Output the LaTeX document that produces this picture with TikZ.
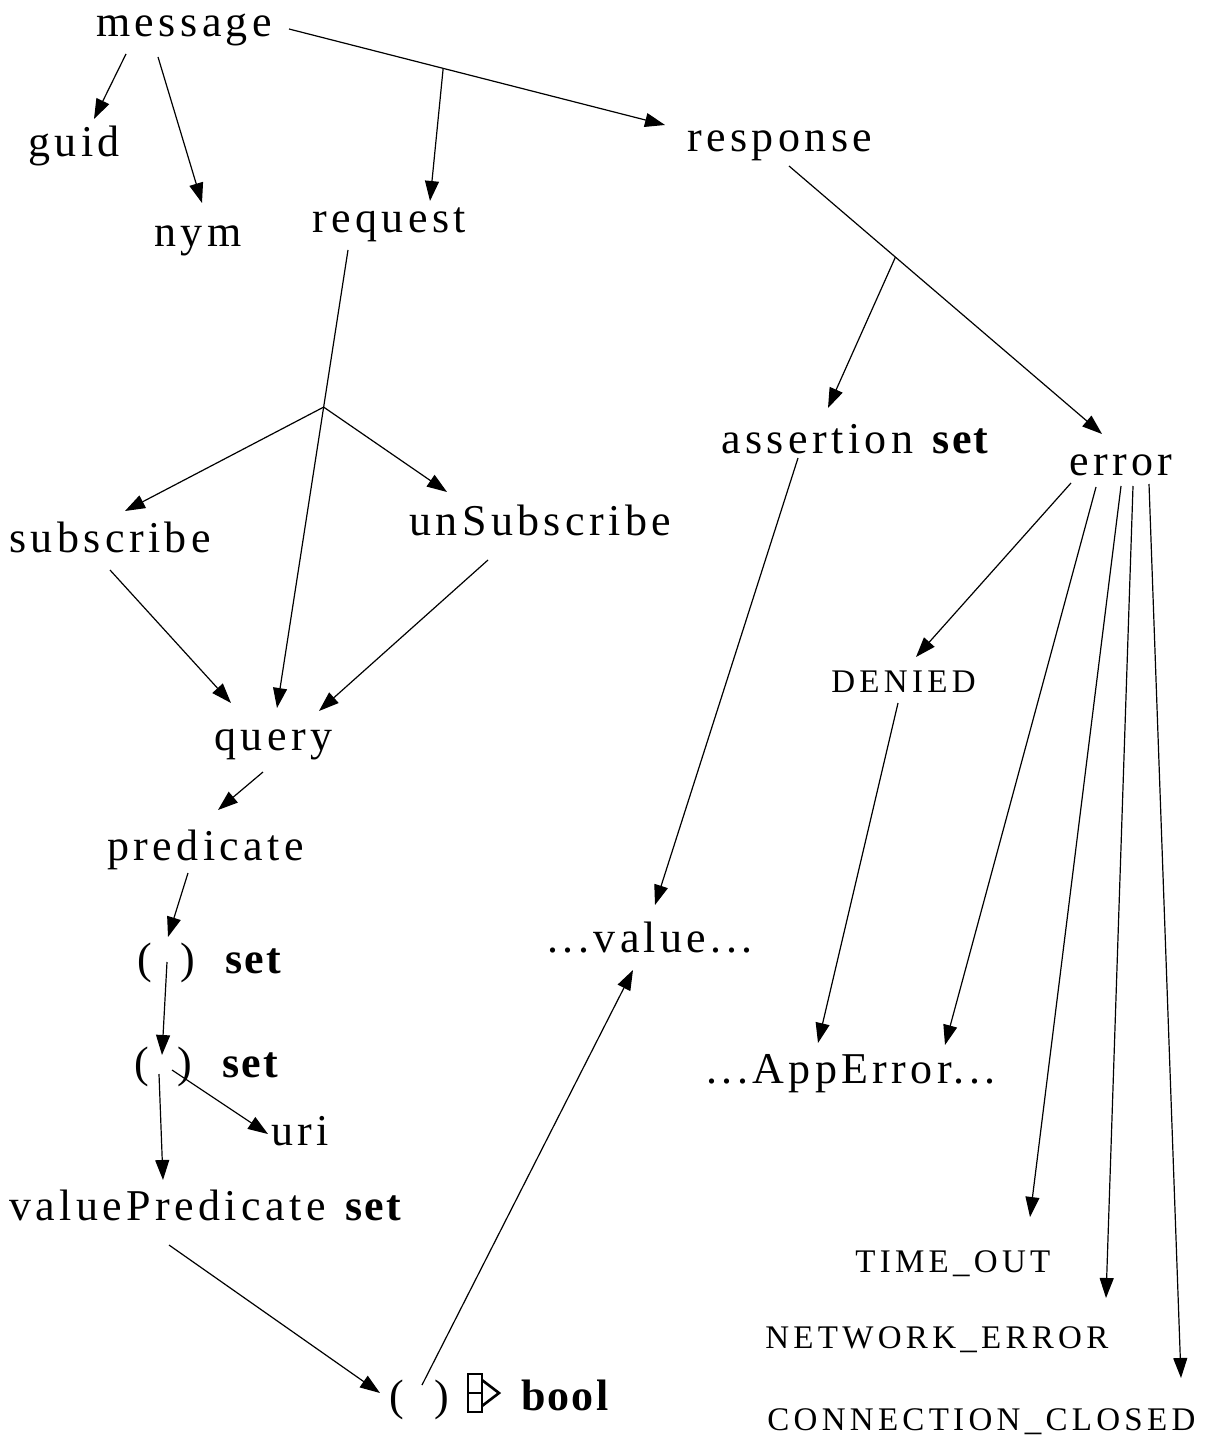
\documentclass[tikz,border=0pt]{standalone}
\usepackage{fontspec}
\usetikzlibrary{arrows.meta,calc}
\setmainfont{Liberation Serif}[LetterSpace=10, BoldFeatures={LetterSpace=5}]
\newfontfamily\capsfont{Liberation Serif}[LetterSpace=13]
\begin{document}
\begin{tikzpicture}[x=0.5pt,y=-0.5pt,
  lbl/.style={inner sep=0pt, anchor=base west, font=\fontsize{22}{26}\selectfont},
  capslbl/.style={inner sep=0pt, anchor=base west, font=\capsfont\fontsize{16.5}{20}\selectfont},
  arr/.style={line width=0.6pt, -{Triangle[length=10pt,width=7pt]}},
  glyph/.style={line width=1.3pt, line join=miter}]
\useasboundingbox (0,0) rectangle (1207,1443);

% ---- labels ----
\node[lbl] (message)   at (96,37)    {message};
\node[lbl] (guid)      at (28,157)   {guid};
\node[lbl] (nym)       at (154,247)  {nym};
\node[lbl] (request)   at (312,233)  {request};
\node[lbl] (response)  at (687,152)  {response};
\node[lbl] (assertion) at (721,453)  {assertion \textbf{set}};
\node[lbl] (error)     at (1069,475) {error};
\node[lbl] (subscribe) at (9,552)    {subscribe};
\node[lbl] (unsub)     at (409,535)  {unSubscribe};
\node[lbl] (query)     at (214,750)  {query};
\node[lbl] (predicate) at (107,860)  {predicate};
\node[lbl] (setA)      at (137,973)  {(\hspace{14pt})\hspace{13pt}\textbf{set}};
\node[lbl] (setB)      at (134,1077) {(\hspace{14pt})\hspace{13pt}\textbf{set}};
\node[lbl] (uri)       at (271,1145) {uri};
\node[lbl] (valpred)   at (9,1220)   {valuePredicate \textbf{set}};
\node[lbl] (boolfn)    at (389,1410) {(\hspace{15pt})\hspace{34pt}\textbf{bool}};
\node[lbl] (value)     at (547,952)  {...value...};
\node[lbl] (apperr)    at (706,1083) {...AppError...};
\node[capslbl] (denied)  at (831,692)  {DENIED};
\node[capslbl] (timeout) at (855,1272) {TIME\_OUT};
\node[capslbl] (neterr)  at (765,1348) {NETWORK\_ERROR};
\node[capslbl] (closed)  at (767,1430) {CONNECTION\_CLOSED};

% implication sign between the parentheses and "bool"
\draw[glyph] (468,1374) rectangle (482,1412);
\draw[glyph] (468,1393) -- (482,1393);
\draw[glyph] (482,1380) -- (499,1393) -- (482,1406);

% ---- connector end points ----
\coordinate (msg-s1)   at (126,54);
\coordinate (guid-n)   at (94,119);
\coordinate (msg-s2)   at (158,57);
\coordinate (nym-n)    at (202,203);
\coordinate (msg-e)    at (289,29);
\coordinate (resp-w)   at (665,125);
\coordinate (msg-fork) at ($(msg-e)!0.41!(resp-w)$);
\coordinate (req-n)    at (430,201);

\coordinate (resp-s)    at (789,166);
\coordinate (err-n)     at (1102,434);
\coordinate (resp-fork) at ($(resp-s)!0.34!(err-n)$);
\coordinate (asr-n)     at (828,408);

\coordinate (req-s)    at (348,250);
\coordinate (qry-n)    at (277,708);
\coordinate (req-fork) at ($(req-s)!0.343!(qry-n)$);
\coordinate (sub-n)    at (125,511);
\coordinate (uns-n)    at (447,492);
\coordinate (sub-s)    at (110,570);
\coordinate (qry-nw)   at (231,703);
\coordinate (uns-s)    at (488,560);
\coordinate (qry-ne)   at (319,711);

\coordinate (qry-s)    at (263,772);
\coordinate (pred-n)   at (218,810);
\coordinate (pred-s)   at (188,873);
\coordinate (setA-n)   at (168,937);
\coordinate (setA-s)   at (167,962);
\coordinate (setB-n)   at (162,1055);
\coordinate (setB-e)   at (172,1070);
\coordinate (uri-w)    at (268,1134);
\coordinate (setB-s)   at (159,1074);
\coordinate (vp-n)     at (163,1180);
\coordinate (vp-s)     at (169,1245);
\coordinate (bool-w)   at (380,1393);
\coordinate (bool-n)   at (422,1385);
\coordinate (val-s)    at (633,970);

\coordinate (asr-s)    at (798,458);
\coordinate (val-ne)   at (655,905);

\coordinate (err-sw)   at (1071,483);
\coordinate (den-n)    at (916,657);
\coordinate (den-s)    at (898,703);
\coordinate (app-nw)   at (818,1043);
\coordinate (err-s1)   at (1096,487);
\coordinate (app-ne)   at (945,1045);
\coordinate (err-s2)   at (1121,486);
\coordinate (to-n)     at (1030,1217);
\coordinate (err-s3)   at (1133,486);
\coordinate (ne-n)     at (1106,1298);
\coordinate (err-s4)   at (1149,484);
\coordinate (cc-n)     at (1181,1378);

% ---- connectors ----
\draw[arr] (msg-s1) -- (guid-n);
\draw[arr] (msg-s2) -- (nym-n);
\draw[arr] (msg-e) -- (resp-w);
\draw[arr] (msg-fork) -- (req-n);

\draw[arr] (resp-s) -- (err-n);
\draw[arr] (resp-fork) -- (asr-n);

\draw[arr] (req-s) -- (qry-n);
\draw[arr] (req-fork) -- (sub-n);
\draw[arr] (req-fork) -- (uns-n);
\draw[arr] (sub-s) -- (qry-nw);
\draw[arr] (uns-s) -- (qry-ne);

\draw[arr] (qry-s) -- (pred-n);
\draw[arr] (pred-s) -- (setA-n);
\draw[arr] (setA-s) -- (setB-n);
\draw[arr] (setB-e) -- (uri-w);
\draw[arr] (setB-s) -- (vp-n);
\draw[arr] (vp-s) -- (bool-w);
\draw[arr] (bool-n) -- (val-s);

\draw[arr] (asr-s) -- (val-ne);

\draw[arr] (err-sw) -- (den-n);
\draw[arr] (den-s) -- (app-nw);
\draw[arr] (err-s1) -- (app-ne);
\draw[arr] (err-s2) -- (to-n);
\draw[arr] (err-s3) -- (ne-n);
\draw[arr] (err-s4) -- (cc-n);
\end{tikzpicture}
\end{document}
